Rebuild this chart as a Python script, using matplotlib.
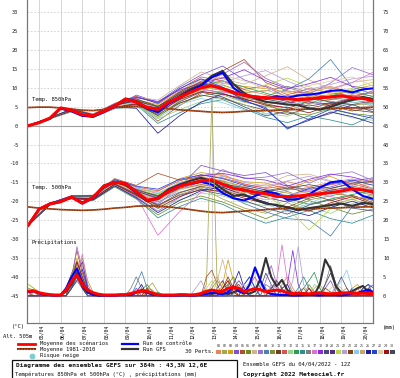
import numpy as np
import matplotlib
matplotlib.use('Agg')
import matplotlib.pyplot as plt
from matplotlib.transforms import ScaledTranslation
from matplotlib.patches import Rectangle
from matplotlib.lines import Line2D

plt.rcParams['axes.unicode_minus'] = False

# ---------------- DATA ----------------
H12 = list(range(0, 385, 12))      # 12-hourly steps (mean / control / GFS / climatology)
H24 = list(range(0, 385, 24))      # 24-hourly steps (perturbations, temperatures)
H6 = list(range(0, 385, 6))        # 6-hourly steps (precipitation)
DAY_LABELS = ['05/04', '06/04', '07/04', '08/04', '09/04', '10/04', '11/04', '12/04',
              '13/04', '14/04', '15/04', '16/04', '17/04', '18/04', '19/04', '20/04']
DAY_HOURS = [12 + 24 * i for i in range(len(DAY_LABELS))]

t850_mean = [0, 0.8, 2.0, 4.7, 4.1, 2.9, 2.6, 3.8, 5.2, 7.0, 6.3, 4.8, 4.3, 6.2, 7.5, 8.8, 10.0,
             10.6, 9.8, 8.8, 8.1, 7.6, 7.4, 7.3, 7.1, 6.9, 7.0, 7.4, 7.6, 7.9, 7.4, 7.2, 6.6]
t850_ctrl = [0, 0.9, 1.9, 4.6, 3.8, 2.6, 2.4, 3.6, 5.0, 6.9, 6.2, 4.5, 3.6, 5.8, 7.3, 9.0, 10.6,
             12.8, 14.0, 10.0, 8.0, 7.6, 7.2, 7.8, 7.4, 8.0, 8.2, 8.6, 9.2, 9.4, 8.8, 9.6, 9.9]
t850_gfs = [0, 0.8, 1.8, 4.5, 3.9, 2.7, 2.4, 3.7, 5.3, 7.2, 6.5, 4.7, 4.1, 6.0, 7.8, 9.6, 10.8,
            13.2, 14.5, 11.0, 8.6, 7.2, 6.3, 6.0, 5.6, 5.4, 4.6, 4.2, 5.0, 6.0, 6.8, 7.6, 7.0]
t850_clim = [4.8, 4.9, 4.9, 4.7, 4.4, 4.1, 4.0, 4.3, 4.8, 5.0, 5.1, 4.9, 4.7, 4.5, 4.2, 4.0, 3.8,
             3.6, 3.5, 3.6, 3.8, 3.9, 4.0, 4.1, 4.2, 4.3, 4.4, 4.5, 4.6, 4.6, 4.7, 4.8, 4.9]

t850_perts = [
    [0, 2.1, 4.3, 2.9, 5.6, 7.2, 3.8, 8.4, 11.5, 12.8, 9.5, 8.2, 6.8, 9.2, 10.4, 8.6, 7.8],
    [0, 1.8, 3.8, 2.3, 4.7, 5.4, 2.2, 6.6, 9.2, 8.1, 6.2, 5.1, 4.2, 5.6, 7.1, 6.3, 5.2],
    [0, 2.0, 4.1, 2.7, 5.3, 6.8, 5.6, 9.1, 12.3, 11.2, 10.4, 9.8, 8.9, 7.6, 8.2, 9.5, 10.8],
    [0, 2.0, 4.0, 2.5, 5.0, 8.1, 6.2, 10.2, 13.4, 15.8, 12.1, 10.3, 7.5, 6.2, 5.8, 7.4, 9.3],
    [0, 2.1, 4.2, 2.8, 5.4, 6.0, 1.2, 5.3, 8.6, 14.5, 17.5, 11.4, 9.2, 8.5, 6.9, 8.1, 7.2],
    [0, 1.8, 3.7, 2.2, 4.5, 5.0, 3.1, 6.0, 7.8, 9.0, 8.2, 5.6, 3.4, 2.8, 4.5, 3.2, 2.6],
    [0, 2.2, 4.4, 3.0, 5.8, 7.5, 6.8, 10.6, 14.2, 12.4, 11.0, 13.2, 15.6, 12.1, 9.8, 11.5, 12.2],
    [0, 2.0, 3.9, 2.6, 5.1, 6.5, 4.9, 8.8, 11.8, 13.6, 16.8, 12.5, 10.1, 8.4, 11.3, 15.4, 13.4],
    [0, 1.9, 4.0, 2.5, 4.9, 6.0, 3.2, 7.2, 9.8, 8.6, 6.4, 7.8, 9.6, 12.4, 17.5, 10.2, 8.3],
    [0, 2.1, 4.1, 2.7, 5.2, 6.2, 4.6, 7.7, 10.1, 9.4, 7.3, 6.8, 8.0, 7.2, 6.5, 5.4, 6.1],
    [0, 2.0, 4.0, 2.6, 5.0, 5.8, 2.6, 5.9, 8.1, 7.2, 5.5, 4.1, 3.0, 4.6, 5.8, 4.2, 3.5],
    [0, 2.1, 4.4, 3.1, 5.9, 7.8, 5.8, 9.6, 12.9, 11.8, 9.6, 10.6, 8.2, 9.8, 8.7, 7.9, 8.8],
    [0, 1.9, 3.9, 2.4, 4.8, 5.2, 1.8, 4.2, 6.4, 7.5, 5.6, 3.2, 2.5, 4.8, 3.9, 2.1, 1.4],
    [0, 2.0, 4.2, 2.8, 5.4, 6.9, 5.2, 8.2, 10.6, 11.9, 10.2, 8.6, 7.1, 5.8, 7.9, 9.2, 7.6],
    [0, 2.0, 3.8, 2.3, 4.6, 5.6, 0.6, 3.4, 5.8, 6.9, 4.5, 2.2, 0.8, 2.6, 1.5, 0.2, 2.8],
    [0, 2.1, 4.3, 2.9, 5.5, 6.4, 4.1, 7.9, 10.4, 10.8, 8.8, 9.2, 10.4, 8.9, 7.4, 6.8, 5.9],
    [0, 1.9, 3.9, 2.5, 5.0, 6.6, 3.9, 7.0, 9.5, 8.9, 7.8, 6.2, 5.4, 7.8, 9.6, 11.4, 14.2],
    [0, 2.0, 4.1, 2.7, 5.3, 7.4, 6.4, 9.4, 11.2, 12.6, 14.8, 11.9, 9.8, 11.1, 12.8, 10.4, 9.7],
    [0, 2.0, 4.0, 2.6, 5.1, 5.9, 2.8, 6.3, 8.9, 7.6, 5.0, 2.6, 3.8, 1.6, 3.2, 5.6, 6.6],
    [0, 2.1, 4.2, 2.8, 5.4, 6.7, 4.4, 8.6, 11.1, 10.1, 8.3, 7.6, 6.4, 5.2, 6.1, 4.8, 4.3],
    [0, 1.9, 3.8, 2.4, 4.7, 5.3, 2.4, 6.8, 9.4, 10.6, 9.0, 10.8, 12.6, 10.3, 8.4, 9.9, 11.6],
    [0, 2.0, 4.0, 2.6, 5.0, 6.2, 3.6, 7.4, 10.2, 11.5, 13.2, 14.6, 11.8, 9.6, 10.9, 12.4, 13.1],
    [0, 2.1, 4.2, 2.8, 5.6, 7.1, 5.1, 8.9, 11.6, 9.8, 7.0, 5.8, 4.6, 6.4, 5.2, 3.9, 4.9],
    [0, 1.8, 3.7, 2.2, 4.5, 5.1, 2.0, 5.6, 7.2, 6.1, 4.2, 3.0, 5.2, 6.8, 4.6, 6.2, 5.5],
    [0, 2.0, 4.1, 2.7, 5.2, 6.0, 4.0, 7.8, 10.6, 9.2, 8.6, 9.4, 7.8, 8.8, 10.1, 8.2, 7.0],
    [0, 2.0, 3.9, 2.5, 4.9, 4.6, -2.0, 2.6, 6.2, 8.4, 6.8, 4.4, -0.6, 1.4, 3.6, 2.4, 0.6],
    [0, 2.1, 4.3, 2.9, 5.7, 7.6, 6.0, 9.8, 12.4, 10.2, 6.5, 4.8, -0.9, 1.8, 4.4, 3.1, 1.9],
    [0, 2.0, 4.0, 2.6, 5.1, 6.3, 4.7, 8.1, 11.0, 13.4, 11.8, 9.9, 8.6, 10.6, 11.8, 12.9, 10.4],
    [0, 1.9, 3.9, 2.4, 4.8, 5.7, 3.4, 6.9, 9.0, 8.4, 7.1, 5.4, 4.8, 3.4, 5.5, 7.2, 6.8],
    [0, 2.1, 4.2, 2.8, 5.4, 6.6, 5.0, 8.3, 10.8, 9.6, 7.6, 7.0, 6.0, 7.5, 6.2, 5.6, 3.6],
]

t500_mean = [-26.3, -22.1, -20.7, -20.1, -18.9, -20.5, -19.0, -16.0, -15.0, -15.3, -17.5, -19.7,
             -19.3, -17.3, -16.0, -15.3, -14.6, -14.3, -15.5, -16.6, -17.0, -17.6, -18.0, -18.7,
             -18.8, -18.6, -18.3, -18.0, -17.7, -17.3, -16.7, -17.0, -17.5]
t500_ctrl = [-26.3, -22.0, -20.6, -20.0, -18.9, -20.6, -19.2, -16.2, -15.0, -15.2, -17.6, -19.8,
             -19.4, -17.2, -15.8, -15.4, -14.8, -15.6, -17.8, -19.2, -19.8, -18.6, -17.4, -18.0,
             -19.6, -19.4, -18.2, -16.4, -15.0, -14.6, -16.8, -18.6, -19.4]
t500_gfs = [-26.3, -22.1, -20.8, -20.2, -18.8, -20.3, -18.9, -15.8, -14.9, -15.6, -17.8, -20.0,
            -19.0, -16.8, -15.6, -14.6, -13.8, -14.6, -16.8, -18.6, -18.2, -19.6, -20.6, -21.0,
            -21.6, -22.4, -21.8, -21.4, -21.0, -20.6, -21.2, -20.4, -20.8]
t500_clim = [-21.5, -21.8, -22.0, -22.2, -22.3, -22.4, -22.3, -22.1, -21.8, -21.6, -21.3, -21.2,
             -21.3, -21.5, -21.8, -22.2, -22.6, -22.9, -23.0, -22.8, -22.6, -22.4, -22.2, -22.0,
             -21.9, -21.9, -22.0, -21.9, -21.8, -21.7, -21.6, -21.5, -21.4]

t500_perts = [
    [-26.3, -20.5, -18.6, -18.5, -14.2, -16.4, -18.0, -15.2, -13.4, -12.8, -15.6, -16.4, -14.8, -16.2, -15.0, -14.1, -15.2],
    [-26.3, -20.9, -19.2, -19.6, -15.8, -18.6, -21.4, -18.2, -16.5, -19.4, -21.8, -23.2, -20.4, -22.6, -20.8, -19.5, -21.3],
    [-26.3, -20.6, -18.7, -18.8, -14.6, -16.9, -17.4, -14.0, -12.4, -13.2, -14.8, -15.2, -16.9, -14.6, -13.4, -15.8, -14.2],
    [-26.3, -20.8, -19.0, -19.2, -15.3, -18.0, -20.8, -16.2, -10.5, -12.0, -13.2, -12.4, -15.8, -17.4, -16.2, -14.6, -13.8],
    [-26.3, -20.6, -18.5, -18.4, -14.0, -15.8, -12.6, -14.4, -13.6, -14.6, -16.2, -17.6, -19.4, -18.2, -16.6, -15.4, -16.8],
    [-26.3, -20.9, -19.3, -19.8, -16.2, -19.4, -23.6, -20.4, -18.6, -20.2, -22.4, -24.6, -22.2, -19.8, -21.6, -23.4, -22.0],
    [-26.3, -20.5, -18.8, -18.7, -14.5, -16.6, -18.6, -15.6, -13.8, -15.0, -16.2, -15.6, -13.2, -12.8, -14.6, -16.0, -15.4],
    [-26.3, -20.7, -19.1, -19.3, -15.6, -18.8, -22.6, -19.0, -15.8, -11.6, -14.0, -13.6, -12.4, -15.2, -13.0, -12.2, -14.6],
    [-26.3, -20.8, -19.0, -19.1, -15.2, -17.8, -20.2, -17.6, -16.2, -17.8, -20.6, -22.8, -24.6, -25.0, -29.2, -21.4, -20.2],
    [-26.3, -20.6, -18.8, -18.9, -14.8, -17.2, -19.0, -16.4, -14.2, -14.8, -17.6, -18.8, -17.4, -19.6, -18.6, -17.2, -18.4],
    [-26.3, -20.7, -18.9, -19.0, -15.1, -17.6, -19.6, -16.8, -15.6, -16.4, -18.2, -20.4, -21.6, -19.2, -17.8, -18.6, -19.8],
    [-26.3, -20.5, -18.6, -18.6, -14.4, -16.2, -17.2, -14.6, -13.0, -13.8, -15.4, -16.6, -15.8, -17.0, -15.6, -14.8, -16.6],
    [-26.3, -20.8, -19.2, -19.5, -15.7, -18.4, -22.0, -19.6, -17.8, -18.6, -20.2, -21.2, -19.8, -21.6, -23.2, -20.6, -19.0],
    [-26.3, -20.6, -18.7, -18.8, -14.7, -17.0, -18.4, -15.8, -14.4, -15.6, -17.0, -17.8, -19.2, -20.8, -19.4, -18.2, -17.2],
    [-26.3, -20.9, -19.3, -19.7, -16.0, -19.2, -24.4, -21.4, -19.2, -20.8, -23.6, -25.8, -24.2, -22.4, -24.6, -25.8, -23.6],
    [-26.3, -20.7, -18.9, -19.0, -15.0, -17.4, -19.4, -16.2, -14.8, -15.2, -16.8, -18.2, -17.0, -16.4, -17.2, -16.0, -17.0],
    [-26.3, -20.8, -19.1, -19.4, -15.5, -18.6, -29.0, -22.8, -17.6, -16.8, -18.4, -19.6, -18.6, -17.2, -18.8, -19.6, -18.2],
    [-26.3, -20.6, -18.7, -18.7, -14.6, -16.8, -18.8, -15.4, -13.2, -12.6, -13.8, -14.4, -16.0, -14.2, -12.8, -13.6, -15.0],
    [-26.3, -20.8, -19.1, -19.2, -15.4, -18.2, -21.0, -18.4, -17.0, -18.2, -19.8, -21.8, -23.4, -21.0, -19.6, -21.8, -22.6],
    [-26.3, -20.7, -18.8, -18.9, -14.9, -17.3, -19.2, -16.6, -15.0, -16.0, -17.4, -19.0, -20.2, -18.8, -17.0, -16.4, -18.0],
    [-26.3, -20.6, -18.8, -18.8, -14.7, -17.1, -18.2, -15.0, -13.6, -14.4, -16.6, -18.6, -21.8, -27.6, -22.0, -19.2, -18.6],
    [-26.3, -20.7, -19.0, -19.1, -15.2, -17.9, -20.6, -17.0, -14.6, -13.4, -15.0, -16.0, -14.6, -13.4, -14.8, -15.6, -13.6],
    [-26.3, -20.8, -19.0, -19.2, -15.3, -18.1, -21.2, -17.8, -16.0, -17.0, -18.8, -17.2, -16.2, -18.0, -19.8, -18.4, -20.4],
    [-26.3, -20.6, -18.7, -18.6, -14.4, -16.4, -17.8, -15.0, -14.0, -15.8, -18.0, -20.8, -22.8, -20.6, -18.2, -17.4, -16.4],
    [-26.3, -20.7, -18.9, -19.0, -15.0, -17.6, -19.8, -16.8, -15.4, -16.6, -17.8, -16.8, -17.8, -19.0, -17.6, -18.8, -19.4],
    [-26.3, -20.9, -19.2, -19.6, -15.9, -19.0, -23.0, -19.8, -17.2, -16.2, -18.6, -20.2, -22.4, -23.8, -21.6, -20.0, -21.8],
    [-26.3, -20.5, -18.6, -18.5, -14.3, -16.0, -16.8, -14.2, -13.0, -14.0, -15.8, -17.0, -18.6, -16.6, -15.4, -14.4, -15.8],
    [-26.3, -20.7, -18.9, -19.0, -15.1, -17.6, -19.6, -17.0, -15.8, -16.8, -18.4, -19.6, -18.0, -17.6, -16.4, -17.6, -16.2],
    [-26.3, -20.8, -19.1, -19.3, -15.5, -18.4, -21.8, -18.8, -16.8, -17.4, -19.2, -20.6, -21.4, -22.6, -20.4, -18.8, -20.8],
    [-26.3, -20.6, -18.8, -18.8, -14.8, -17.0, -18.6, -16.0, -14.4, -15.4, -16.4, -17.4, -16.6, -15.6, -16.6, -15.2, -14.8],
]

precip_mean = [1.2, 1.3, 0.8, 0.5, 0.3, 0.2, 0.2, 1.5, 3.8, 5.5, 3.0, 1.5, 0.8, 0.4, 0.2, 0.2, 0.2,
               0.3, 0.3, 0.6, 1.0, 1.3, 1.2, 0.7, 0.3, 0.2, 0.2, 0.2, 0.3, 0.3, 0.2, 0.3, 0.6, 1.2,
               1.5, 1.2, 1.1, 2.0, 2.2, 2.0, 1.1, 1.5, 1.9, 1.6, 1.1, 1.3, 1.5, 1.3, 0.8, 0.6, 0.7,
               0.6, 0.5, 0.7, 0.8, 0.6, 0.5, 0.6, 0.7, 0.8, 0.7, 0.6, 0.7, 0.6, 0.6]
precip_ctrl = [1.0, 1.2, 0.6, 0.3, 0.2, 0.1, 0.2, 2.0, 5.0, 7.2, 3.5, 1.0, 0.3, 0.1, 0.1, 0.1, 0.1,
               0.2, 0.2, 0.3, 0.8, 1.5, 1.0, 0.4, 0.2, 0.1, 0.1, 0.1, 0.1, 0.2, 0.1, 0.1, 0.3, 0.5,
               0.8, 0.6, 0.4, 1.0, 2.5, 1.2, 0.6, 3.0, 7.5, 4.0, 1.0, 0.5, 0.3, 0.2, 0.2, 0.1, 0.1,
               0.2, 0.3, 0.2, 0.1, 0.2, 0.3, 0.2, 0.1, 0.3, 0.6, 0.8, 1.2, 1.6, 0.9]
precip_gfs = [1.1, 1.3, 0.7, 0.4, 0.2, 0.1, 0.2, 1.2, 3.0, 6.0, 2.5, 0.8, 0.3, 0.1, 0.1, 0.1, 0.2,
              0.2, 0.3, 0.2, 0.9, 1.2, 0.8, 0.3, 0.2, 0.1, 0.1, 0.1, 0.2, 0.1, 0.1, 0.2, 0.4, 0.6,
              0.5, 0.8, 0.6, 0.5, 0.9, 1.5, 0.8, 0.6, 1.2, 4.5, 10.0, 5.0, 2.5, 4.2, 1.5, 0.6, 0.3,
              0.2, 0.2, 0.3, 3.0, 9.6, 7.0, 2.5, 0.8, 0.6, 1.2, 2.0, 2.6, 1.0, 0.5]
# perturbation precipitation: {6-hourly step index: mm}; other steps are 0 mm
precip_perts = [
    {0: 1, 1: 1.5, 7: 2, 8: 5, 9: 8, 10: 4, 11: 1, 20: 1, 21: 2, 36: 2, 37: 4, 38: 2, 47: 3, 48: 5, 49: 2, 58: 1, 59: 2},
    {0: 3, 1: 2, 2: 1, 7: 1, 8: 3, 9: 6, 10: 10, 11: 4, 12: 1, 22: 2, 23: 3.4, 24: 1, 33: 3, 34: 52, 35: 2, 52: 2, 53: 1},
    {0: 1, 8: 4, 9: 10, 10: 5, 11: 1, 21: 1, 36: 3, 37: 9.5, 38: 4, 39: 1, 60: 2, 61: 3, 62: 1},
    {0: 1, 8: 3, 9: 7, 10: 3, 20: 2, 40: 3, 41: 5, 42: 2, 55: 2, 56: 4, 57: 1},
    {1: 1, 8: 5, 9: 12, 10: 6, 11: 2, 33: 5, 34: 6.8, 35: 3, 45: 2, 46: 3, 63: 2, 64: 1},
    {0: 1, 7: 2, 8: 6, 9: 9, 10: 3, 21: 1.5, 22: 3, 23: 1, 37: 3, 38: 5, 39: 2, 50: 1, 51: 2},
    {0: 1.5, 8: 2, 9: 5, 10: 8, 11: 3, 35: 4, 36: 9.6, 37: 4, 38: 1, 57: 3, 58: 2},
    {8: 4, 9: 13, 10: 7, 11: 2, 44: 4, 45: 8, 46: 3},
    {0: 1, 8: 3, 9: 6, 10: 4, 11: 1, 20: 3, 21: 6.4, 22: 2, 42: 2, 43: 4, 44: 2, 63: 2, 64: 3},
    {0: 2, 1: 1.5, 8: 3, 9: 5, 10: 2, 22: 2, 23: 1.5, 34: 2, 35: 4, 36: 2, 52: 3, 53: 1},
    {8: 2, 9: 4, 10: 2, 38: 2, 39: 3, 40: 1, 55: 2, 56: 1},
    {0: 1, 8: 5, 9: 8, 10: 3, 21: 1, 41: 3, 42: 5, 43: 2, 61: 2},
    {8: 2, 9: 4, 10: 3, 11: 1, 40: 2, 41: 3.5, 42: 1, 53: 3, 54: 2},
    {0: 1, 8: 4, 9: 7, 10: 5, 11: 2, 24: 1, 51: 2, 52: 4, 53: 6.2, 54: 2},
    {8: 3, 9: 5, 10: 2, 36: 2, 37: 3, 50: 2, 51: 5, 52: 2},
    {0: 1, 8: 3, 9: 9, 10: 4, 19: 2, 20: 5, 21: 2, 44: 3, 45: 2, 55: 3, 56: 8, 57: 3},
    {8: 2, 9: 5, 10: 11, 11: 3, 46: 4, 47: 13.5, 48: 4, 49: 1},
    {8: 4, 9: 6, 10: 3, 38: 2, 39: 4, 40: 2, 48: 3, 49: 12, 50: 3},
    {8: 3, 9: 5, 10: 2, 43: 2, 44: 6, 45: 3, 57: 2, 58: 5, 59: 2},
    {8: 2, 9: 6, 10: 9, 11: 2, 35: 2, 36: 4, 37: 1, 60: 2},
    {0: 3, 1: 2, 2: 1, 8: 3, 9: 5, 10: 3, 33: 2, 34: 4, 35: 2, 47: 2, 48: 3, 49: 1},
    {8: 2, 9: 4, 10: 2, 31: 2, 32: 4, 33: 1, 45: 3, 46: 2, 49: 4, 50: 13, 51: 3},
    {8: 3, 9: 7, 10: 4, 11: 1, 22: 2, 36: 2, 37: 5, 38: 2, 62: 2, 63: 3},
    {8: 2, 9: 5, 10: 3, 42: 2, 43: 3, 44: 1, 57: 2, 58: 4, 59: 6.8, 60: 2},
    {0: 1.5, 8: 4, 9: 8, 10: 5, 11: 1, 34: 3, 35: 5, 36: 2, 53: 2, 54: 3, 55: 1},
    {8: 3, 9: 6, 10: 2, 20: 1, 21: 3, 38: 3, 39: 6.5, 40: 2, 47: 2, 48: 3},
    {8: 2, 9: 4, 10: 7, 11: 2, 40: 3, 41: 5, 42: 2, 62: 2, 63: 3, 64: 2},
    {8: 3, 9: 6, 10: 3, 39: 2, 40: 3, 41: 1, 56: 2, 57: 3},
    {8: 4, 9: 9, 10: 5, 11: 1, 36: 2, 37: 4, 38: 1, 52: 2},
    {8: 2, 9: 5, 10: 3, 45: 2, 46: 4, 47: 2, 55: 3, 56: 6, 57: 2},
]

PERT_COLORS = ['#e8845c', '#a6a64d', '#d4a017', '#7b52d6', '#b0502a', '#6b8e23', '#d2b48c',
               '#9b6fd0', '#4682b4', '#8b8b3c', '#6b4226', '#e05050', '#90d890', '#2e9b4f',
               '#2f8f8f', '#7f7f7f', '#e070d0', '#8a2be2', '#4a4a7a', '#5b2c83', '#b8d84a',
               '#b39ddb', '#8b4513', '#87ceeb', '#c8a86a', '#1e1e9a', '#2040e0', '#e6c8a0',
               '#a01010', '#3f4a5a']

# ---------------- FIGURE ----------------
W, H = 400, 378
fig = plt.figure(figsize=(W / 100, H / 100), dpi=100)
fig.patch.set_facecolor('white')
MONO = 'DejaVu Sans Mono'


def fx(x):
    return x / W


def fy(y):
    return 1 - y / H


ax = fig.add_axes([fx(27), fy(323), (373.3 - 27) / W, 323 / H])
ax.set_xlim(-1.5, 383.5)
ax.set_ylim(-52.2, 33.25)
ax2 = ax.twinx()
ax2.set_ylim(-52.2 + 45, 33.25 + 45)

# grid
for v in range(-45, 31, 5):
    ax.axhline(v, color='#cfcfcf', lw=0.6, ls=(0, (2, 2)), zorder=0)
for h in DAY_HOURS:
    ax.axvline(h, color='#cfcfcf', lw=0.6, zorder=0)
ax.axhline(0, color='#a0a0a0', lw=0.8, zorder=0.5)
ax.axhline(-45, color='#a0a0a0', lw=0.8, zorder=0.5)

# temperature perturbations
for i in range(30):
    ax.plot(H24, t850_perts[i], color=PERT_COLORS[i], lw=0.55, zorder=1)
    ax.plot(H24, t500_perts[i], color=PERT_COLORS[i], lw=0.55, zorder=1)
# climatology
for clim in (t850_clim, t500_clim):
    ax.plot(H12, clim, color='#8b2e08', lw=1.2, zorder=2)
    ax.plot(H12, clim, color='#e0803a', lw=0.6, ls=(0, (1, 2)), zorder=2.1)
# GFS, control, mean
for s in (t850_gfs, t500_gfs):
    ax.plot(H12, s, color='#333333', lw=1.5, zorder=3)
for s in (t850_ctrl, t500_ctrl):
    ax.plot(H12, s, color='#0000ff', lw=1.5, zorder=4)
for s in (t850_mean, t500_mean):
    ax.plot(H12, s, color='#ff0000', lw=2.2, zorder=5)

# precipitation (right axis, mm)
for i in range(30):
    series = np.zeros(len(H6))
    for k, v in precip_perts[i].items():
        series[k] = v
    ax2.plot(H6, series, color=PERT_COLORS[i], lw=0.55, zorder=1)
ax2.plot(H6, precip_gfs, color='#333333', lw=1.5, zorder=3)
ax2.plot(H6, precip_ctrl, color='#0000ff', lw=1.5, zorder=4)
ax2.plot(H6, precip_mean, color='#ff0000', lw=2.2, zorder=5)

# axes styling
for a in (ax, ax2):
    a.spines['top'].set_visible(False)
    for sp in ('left', 'right', 'bottom'):
        a.spines[sp].set_color('#777777')
        a.spines[sp].set_linewidth(0.8)
ax.set_yticks(range(-45, 31, 5))
ax.tick_params(axis='y', length=0, pad=6.5, labelsize=3.8, labelcolor='#222222')
ax2.set_yticks(range(0, 76, 5))
ax2.tick_params(axis='y', length=0, pad=7.0, labelsize=3.8, labelcolor='#222222')
for lab in ax.get_yticklabels() + ax2.get_yticklabels():
    lab.set_family(MONO)
ax.set_xticks(DAY_HOURS)
ax.set_xticklabels(DAY_LABELS, rotation=90, fontsize=3.4, family=MONO, va='top', ha='center')
ax.tick_params(axis='x', length=0, pad=1.5)
offset = ScaledTranslation(2.4 / 100, 0, fig.dpi_scale_trans)
for lab in ax.get_xticklabels():
    lab.set_transform(lab.get_transform() + offset)

# in-plot labels
txt = dict(family=MONO, fontsize=4.0, color='#111111', va='center', ha='left')
fig.text(fx(32), fy(100), 'Temp. 850hPa', **txt)
fig.text(fx(32), fy(187.3), 'Temp. 500hPa', **txt)
fig.text(fx(32), fy(242.7), 'Précipitations', **txt)

# axis units
fig.text(fx(12), fy(326.7), '(°C)', **txt)
fig.text(fx(3), fy(336), 'Alt. 505m', **txt)
fig.text(fx(383), fy(327.7), '(mm)', **txt)

# legend
fig.add_artist(Line2D([fx(18), fx(35)], [fy(343.7)] * 2, color='#ff0000', lw=2.0))
fig.add_artist(Line2D([fx(18), fx(35)], [fy(349.3)] * 2, color='#8b2e08', lw=1.5))
fig.add_artist(Line2D([fx(18), fx(35)], [fy(349.3)] * 2, color='#e0803a', lw=0.7, ls=(0, (1, 2))))
fig.add_artist(Line2D([fx(32)], [fy(356)], marker='o', markersize=3.2, color='#7ccfcf', lw=0))
fig.text(fx(40), fy(343.7), 'Moyenne des scénarios', **txt)
fig.text(fx(40), fy(349.3), 'Moyenne 1981-2010', **txt)
fig.text(fx(40), fy(356), 'Risque neige', **txt)
fig.add_artist(Line2D([fx(122), fx(138)], [fy(343.7)] * 2, color='#0000ff', lw=1.6))
fig.add_artist(Line2D([fx(122), fx(138)], [fy(349.3)] * 2, color='#333333', lw=1.6))
fig.text(fx(143), fy(343.7), 'Run de contrôle', **txt)
fig.text(fx(143), fy(349.3), 'Run GFS', **txt)
fig.text(fx(185), fy(351.3), '30 Perts.', **txt)
for i in range(30):
    cx = 218.3 + 5.99 * i
    fig.text(fx(cx), fy(346), f'{i + 1:02d}', family=MONO, fontsize=2.4, ha='center', va='center',
             color='#333333')
    fig.add_artist(Rectangle((fx(cx - 2.5), fy(353.5)), 5 / W, 3.2 / H, transform=fig.transFigure,
                             facecolor=PERT_COLORS[i], edgecolor='none'))

# title box
fig.add_artist(Rectangle((fx(12), fy(382)), 225 / W, 22.5 / H, transform=fig.transFigure,
                         facecolor='none', edgecolor='#111111', lw=0.9, clip_on=False))
fig.text(fx(16), fy(366), 'Diagramme des ensembles GEFS sur 384h : 43,3N 12,6E',
         family=MONO, fontsize=4.4, fontweight='bold', va='center', ha='left', color='#111111')
fig.text(fx(15), fy(374), 'Températures 850hPa et 500hPa (°C) , précipitations (mm)', **txt)
fig.text(fx(243), fy(364), 'Ensemble GEFS du 04/04/2022 - 12Z', **txt)
fig.text(fx(243), fy(374.3), 'Copyright 2022 Meteociel.fr', family=MONO, fontsize=4.5,
         fontweight='bold', va='center', ha='left', color='#111111')

fig.savefig('out.png', dpi=100, facecolor='white')
